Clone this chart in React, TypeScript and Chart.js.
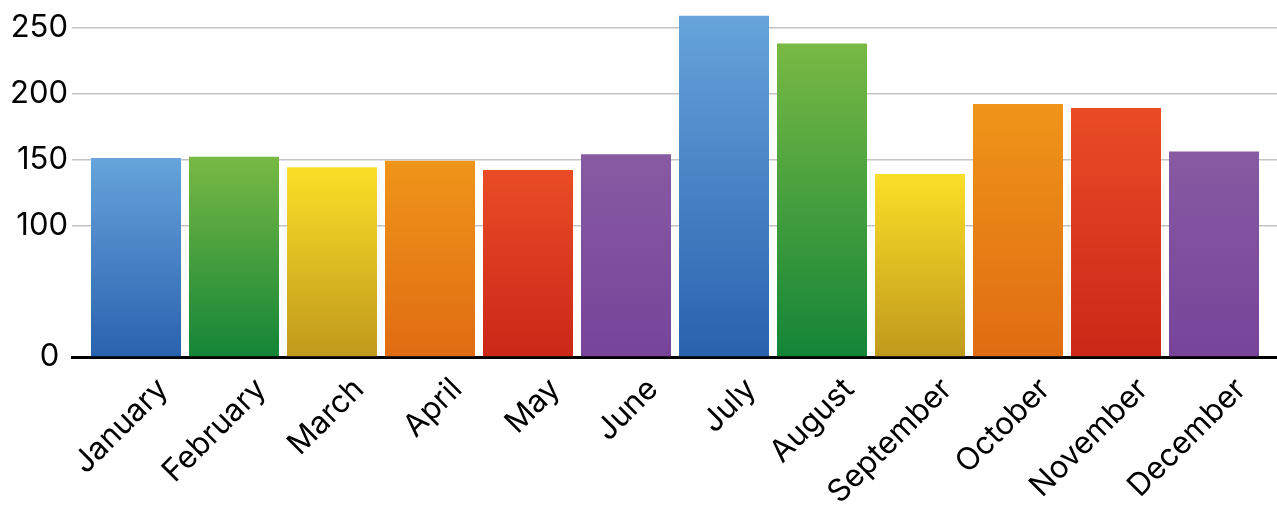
import React, { useEffect, useRef } from "react";
import { Chart, registerables } from "chart.js";

Chart.register(...registerables);

const months = [
  "January", "February", "March", "April", "May", "June",
  "July", "August", "September", "October", "November", "December",
];
const values = [151, 152, 144, 149, 142, 154, 259, 238, 139, 192, 189, 156];
const yTicksShown = [0, 100, 150, 200, 250];

const topColors = ["#66a4db", "#79b944", "#fadf27", "#ef9519", "#e94c26", "#875aa2"];
const bottomColors = ["#2962ae", "#138537", "#c0991c", "#e06c12", "#cb2718", "#77449a"];

const FONT = "Inter, 'Liberation Sans', sans-serif";
const X_MIN = -0.5 - 15 / 98;
const X_MAX = 11.5 + 14 / 98;
const LABEL_SHIFT = 27 / 98;

export default function App() {
  const ref = useRef<HTMLCanvasElement | null>(null);

  useEffect(() => {
    if (!ref.current) return;
    const zeroPad = (s: any) => {
      s.paddingLeft = 0;
      s.paddingRight = 0;
      s.paddingTop = 0;
      s.paddingBottom = 0;
    };
    const chart = new Chart(ref.current, {
      type: "bar",
      data: {
        datasets: [
          {
            data: values.map((v, i) => ({ x: i, y: v })),
            backgroundColor: (ctx: any) => {
              const i = ctx.dataIndex ?? 0;
              const top = topColors[i % topColors.length];
              const bot = bottomColors[i % bottomColors.length];
              const chart = ctx.chart;
              const ys = chart.scales?.y;
              if (!chart.chartArea || !ys || ctx.type !== "data") return top;
              const y0 = ys.getPixelForValue(values[i]);
              const y1 = ys.getPixelForValue(0);
              const g = chart.ctx.createLinearGradient(0, y0, 0, y1);
              g.addColorStop(0, top);
              g.addColorStop(1, bot);
              return g;
            },
            borderWidth: 0,
            barPercentage: 90 / 98,
            categoryPercentage: 1,
          },
        ],
      },
      options: {
        responsive: false,
        animation: false,
        layout: { padding: 0 },
        plugins: { legend: { display: false }, tooltip: { enabled: false } },
        scales: {
          x: {
            type: "linear",
            offset: false,
            min: X_MIN,
            max: X_MAX,
            grid: { display: false, drawTicks: false },
            border: { display: true, color: "#000", width: 3 },
            ticks: { display: false },
            afterFit: (s: any) => {
              s.height = 0;
              zeroPad(s);
            },
          },
          xl: {
            type: "linear",
            position: "bottom",
            offset: false,
            min: X_MIN - LABEL_SHIFT,
            max: X_MAX - LABEL_SHIFT,
            grid: { display: false, drawTicks: false },
            border: { display: false },
            afterFit: (s: any) => {
              s.height = 149;
              zeroPad(s);
            },
            ticks: {
              stepSize: 1,
              includeBounds: false,
              autoSkip: false,
              maxRotation: 45,
              minRotation: 45,
              padding: 14,
              color: "#000",
              font: { family: FONT, size: 31 },
              callback: (v: any) => (Number.isInteger(v) ? months[v] ?? "" : ""),
            },
          },
          y: {
            min: 0,
            max: 271,
            grid: {
              drawTicks: false,
              color: (c: any) =>
                c.tick && c.tick.value !== 0 && yTicksShown.includes(c.tick.value)
                  ? "#c4c4c4"
                  : "rgba(0,0,0,0)",
              lineWidth: 1.5,
            },
            border: { display: false },
            afterFit: (s: any) => {
              s.width = 72;
              zeroPad(s);
            },
            ticks: {
              stepSize: 50,
              includeBounds: false,
              padding: 4,
              color: "#000",
              font: { family: FONT, size: 31 },
              callback: (v: any) =>
                yTicksShown.includes(v) ? (v === 0 ? "0 " : String(v)) : "",
            },
          },
        },
      },
    });
    return () => chart.destroy();
  }, []);

  return (
    <div style={{ position: "fixed", left: 0, top: 0, width: 1277, height: 506, background: "#fff" }}>
      <canvas ref={ref} width={1277} height={506} style={{ display: "block" }} />
    </div>
  );
}
